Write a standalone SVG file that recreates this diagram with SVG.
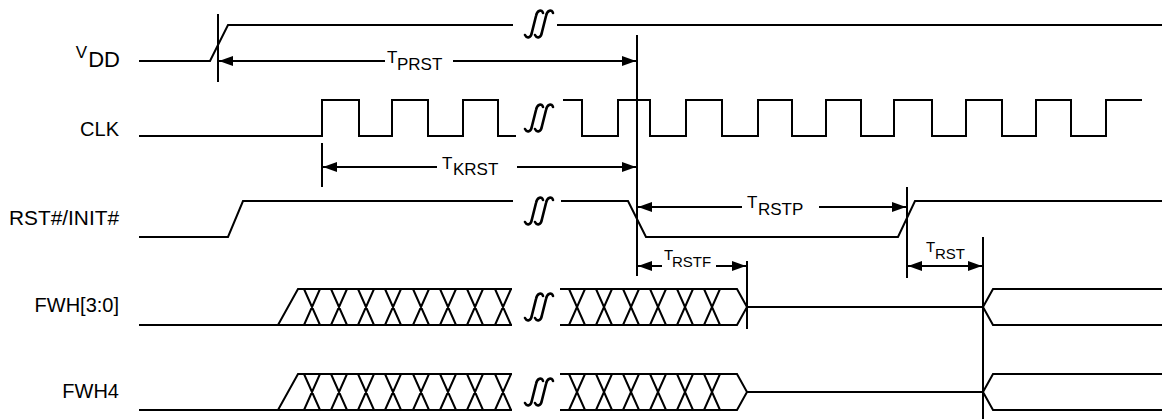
<svg xmlns="http://www.w3.org/2000/svg" xmlns:xlink="http://www.w3.org/1999/xlink" width="1162" height="419" viewBox="0 0 1162 419">
<style>
.sig{fill:none;stroke:#000;stroke-width:2;stroke-linejoin:miter}
.mk{fill:none;stroke:#000;stroke-width:2}
.dim{fill:none;stroke:#000;stroke-width:2}
.brk{fill:none;stroke:#000;stroke-width:2.6;stroke-linecap:round}
text{font-family:"Liberation Sans",Arial,sans-serif;fill:#000}
.lbl{font-size:20px;text-anchor:end}
.t{font-size:17px}
.ts{font-size:15px}
</style>
<defs>
<marker id="ah" viewBox="0 0 14 10" refX="14" refY="5" markerWidth="14" markerHeight="10" markerUnits="userSpaceOnUse" orient="auto-start-reverse">
<path d="M0,0 L14,5 L0,10 Z" fill="#000"/>
</marker>
<g id="brk">
<path class="brk" d="M-14,11 C-12,15 -8,14 -7,8 L-3,-8 C-2,-14 3,-15 4,-11"/>
<path class="brk" d="M-4,11 C-2,15 2,14 3,8 L7,-8 C8,-14 13,-15 14,-11"/>
</g>
</defs>

<g id="labels">
<text x="87" y="58" style="font-size:17px" text-anchor="end">V</text>
<text x="120" y="67" style="font-size:22px" text-anchor="end">DD</text>
<text class="lbl" x="119" y="136">CLK</text>
<text class="lbl" x="119" y="225" textLength="110" lengthAdjust="spacingAndGlyphs">RST#/INIT#</text>
<text class="lbl" x="119" y="312">FWH[3:0]</text>
<text class="lbl" x="119" y="398">FWH4</text>
</g>

<g id="vdd">
<path class="sig" d="M139,61 H210 L228,25 H513"/>
<path class="sig" d="M557,25 H1162"/>
<use xlink:href="#brk" x="539" y="24"/>
</g>

<g id="clk">
<path class="sig" d="M139,136 H322 V100 H359 V136 H392 V100 H428 V136 H463 V100 H498 V136 H516"/>
<path class="sig" d="M563,100 H582 V136 H618 V100 H650 V136 H686 V100 H722 V136 H758 V100 H792 V136 H826 V100 H861 V136 H894 V100 H932 V136 H966 V100 H1002 V136 H1036 V100 H1071 V136 H1106 V100 H1142"/>
<use xlink:href="#brk" x="539" y="118"/>
</g>

<g id="rst">
<path class="sig" d="M139,237 H228 L243,201 H513"/>
<path class="sig" d="M561,201 H628 L646,237 H898 L915,201 H1162"/>
<use xlink:href="#brk" x="539" y="211"/>
</g>

<g id="fwh30">
<path class="sig" d="M139,325 H512 M278,325 L298,289 H512"/>
<path class="sig" d="M304,289 L320,325 M304,325 L320,289 M331,289 L347,325 M331,325 L347,289 M358,289 L374,325 M358,325 L374,289 M385,289 L401,325 M385,325 L401,289 M413,289 L429,325 M413,325 L429,289 M440,289 L456,325 M440,325 L456,289 M467,289 L483,325 M467,325 L483,289 M495,289 L511,325 M495,325 L511,289"/>
<path class="sig" d="M560,289 H737 L747,307 L737,325 H560"/>
<path class="sig" d="M569,289 L585,325 M569,325 L585,289 M596,289 L612,325 M596,325 L612,289 M623,289 L639,325 M623,325 L639,289 M650,289 L666,325 M650,325 L666,289 M677,289 L693,325 M677,325 L693,289 M704,289 L720,325 M704,325 L720,289"/>
<path class="sig" d="M747,307 H983"/>
<path class="sig" d="M1162,289 H993 L983,307 L993,325 H1162"/>
<use xlink:href="#brk" x="539" y="307"/>
</g>

<g id="fwh4">
<path class="sig" d="M139,410 H512 M278,410 L298,374 H512"/>
<path class="sig" d="M304,374 L320,410 M304,410 L320,374 M331,374 L347,410 M331,410 L347,374 M358,374 L374,410 M358,410 L374,374 M385,374 L401,410 M385,410 L401,374 M413,374 L429,410 M413,410 L429,374 M440,374 L456,410 M440,410 L456,374 M467,374 L483,410 M467,410 L483,374 M495,374 L511,410 M495,410 L511,374"/>
<path class="sig" d="M560,374 H737 L747,392 L737,410 H560"/>
<path class="sig" d="M569,374 L585,410 M569,410 L585,374 M596,374 L612,410 M596,410 L612,374 M623,374 L639,410 M623,410 L639,374 M650,374 L666,410 M650,410 L666,374 M677,374 L693,410 M677,410 L693,374 M704,374 L720,410 M704,410 L720,374"/>
<path class="sig" d="M747,392 H983"/>
<path class="sig" d="M1162,374 H993 L983,392 L993,410 H1162"/>
<use xlink:href="#brk" x="539" y="392"/>
</g>

<g id="connectors">
<path class="mk" d="M218,14 V82"/>
<path class="mk" d="M637,35 V276"/>
<path class="mk" d="M322,143 V187"/>
<path class="mk" d="M907,187 V278"/>
<path class="mk" d="M747,261 V329"/>
<path class="mk" d="M983,237 V419"/>

<line class="dim" x1="385" y1="61" x2="219" y2="61" marker-end="url(#ah)"/>
<line class="dim" x1="453" y1="61" x2="636" y2="61" marker-end="url(#ah)"/>
<line class="dim" x1="437" y1="167" x2="323" y2="167" marker-end="url(#ah)"/>
<line class="dim" x1="517" y1="167" x2="636" y2="167" marker-end="url(#ah)"/>
<line class="dim" x1="742" y1="207" x2="638" y2="207" marker-end="url(#ah)"/>
<line class="dim" x1="819" y1="207" x2="906" y2="207" marker-end="url(#ah)"/>
<line class="dim" x1="662" y1="266" x2="638" y2="266" marker-end="url(#ah)"/>
<line class="dim" x1="716" y1="266" x2="746" y2="266" marker-end="url(#ah)"/>
<line class="dim" x1="908" y1="266" x2="982" y2="266" marker-start="url(#ah)" marker-end="url(#ah)"/>
</g>

<g id="timing-labels">
<text class="t" x="387" y="63">T</text><text class="t" x="397" y="70">PRST</text>
<text class="t" x="442" y="169">T</text><text class="t" x="453" y="175">KRST</text>
<text class="t" x="747" y="208">T</text><text class="t" x="758" y="215">RSTP</text>
<text class="ts" x="664" y="260">T</text><text class="ts" x="672" y="267">RSTF</text>
<text class="ts" x="926" y="252">T</text><text class="ts" x="935" y="259">RST</text>
</g>
</svg>
